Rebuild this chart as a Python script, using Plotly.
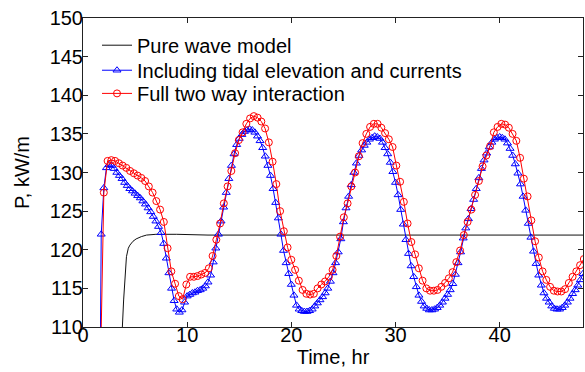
import numpy as np
import plotly.graph_objects as go

# Pure wave model (no markers)
black_t = [3.76, 3.78, 3.9, 4.0, 4.17, 4.35, 4.5, 4.8, 5.1, 5.6, 6.1, 7.0, 9.0, 12.0, 48.0]
black_p = [100.0, 110.0, 113.5, 115.6, 119.1, 120.2, 120.6, 121.1, 121.4, 121.7, 121.9, 122.0, 122.0, 121.9, 121.9]

# Including tidal elevation and currents, every 0.25 hr from 1.5 hr
blue_t0 = 1.5
blue_dt = 0.25
blue_p = [
    80.0, 122.0, 128.0, 130.6, 131.0, 130.9, 130.5, 130.0,
    129.6, 129.2, 128.7, 128.3, 127.9, 127.6, 127.3, 127.0,
    126.7, 126.3, 125.9, 125.4, 124.9, 124.3, 123.7, 123.0,
    122.2, 120.8, 118.9, 117.0, 115.0, 113.4, 112.3, 111.9,
    112.2, 113.2, 114.0, 114.2, 114.4, 114.5, 114.7, 114.8,
    115.0, 115.3, 115.8, 116.7, 118.4, 120.2, 122.0, 123.7,
    125.5, 127.4, 129.2, 130.9, 132.4, 133.6, 134.4, 134.9,
    135.3, 135.5, 135.6, 135.5, 135.2, 134.7, 134.1, 133.2,
    132.1, 130.9, 129.6, 127.9, 126.1, 124.1, 122.0, 119.9,
    118.3, 116.9, 115.5, 114.1, 112.8, 112.3, 112.1, 112.0,
    112.0, 112.1, 112.3, 112.7, 113.1, 113.5, 113.9, 114.4,
    115.0, 115.9, 117.0, 118.3, 119.7, 121.4, 123.6, 125.4,
    126.9, 128.4, 130.0, 131.2, 132.2, 132.9, 133.5, 133.9,
    134.3, 134.5, 134.7, 134.6, 134.4, 133.9, 133.2, 132.4,
    131.3, 130.1, 128.7, 127.1, 125.2, 123.3, 121.3, 119.5,
    117.9, 116.5, 115.2, 114.1, 113.3, 112.7, 112.4, 112.2,
    112.2, 112.3, 112.5, 112.8, 113.2, 113.7, 114.2, 114.8,
    115.6, 116.8, 118.3, 119.7, 121.5, 122.8, 124.0, 125.3,
    126.5, 127.9, 129.3, 130.5, 131.6, 132.5, 133.3, 133.9,
    134.3, 134.5, 134.6, 134.5, 134.3, 133.8, 133.1, 132.2,
    131.1, 129.9, 128.5, 126.9, 125.1, 123.4, 121.6, 119.8,
    118.2, 116.7, 115.4, 114.4, 113.7, 113.2, 112.7, 112.4,
    112.3, 112.3, 112.5, 112.8, 113.2, 113.7, 114.3, 114.8,
    115.4, 116.1, 116.9,
]

# Full two way interaction, every 0.36 hr from 1.64 hr
red_t0 = 1.64
red_dt = 0.36
red_p = [
    102.0, 127.4, 131.5, 131.6, 131.5, 131.2, 130.9, 130.6, 130.2, 129.9,
    129.6, 129.3, 128.9, 128.2, 127.4, 126.3, 125.2, 123.6, 120.2, 117.2,
    115.6, 114.0, 113.6, 115.5, 116.5, 116.5, 116.6, 116.8, 117.0, 117.6,
    119.2, 121.3, 123.4, 126.0, 128.2, 130.2, 132.5, 134.2, 135.2, 136.3,
    137.0, 137.3, 137.1, 136.6, 135.7, 133.9, 131.4, 128.5, 125.0, 122.4,
    120.3, 118.7, 117.4, 116.0, 114.8, 114.3, 114.2, 114.3, 115.0, 115.5,
    115.9, 116.5, 117.4, 119.2, 121.7, 124.2, 126.0, 128.2, 130.0, 132.1,
    133.8, 135.0, 135.9, 136.3, 136.3, 135.8, 135.1, 134.3, 133.3, 130.9,
    128.8, 126.2, 123.4, 121.0, 119.4, 117.6, 116.0, 115.0, 114.7, 114.7,
    114.8, 115.2, 115.7, 116.3, 117.1, 118.4, 119.9, 121.9, 123.6, 125.2,
    127.1, 128.9, 130.8, 132.2, 133.4, 135.2, 135.9, 136.3, 136.2, 135.8,
    135.0, 134.1, 131.9, 129.2, 126.9, 123.8, 121.1, 119.0, 117.2, 116.1,
    115.2, 114.7, 114.6, 114.6, 114.9, 115.7, 116.5, 117.2, 118.0, 118.8,
]

x_ticks = [0, 10, 20, 30, 40]
y_ticks = [110, 115, 120, 125, 130, 135, 140, 145, 150]

blue_t = blue_t0 + blue_dt * np.arange(len(blue_p))
red_t = red_t0 + red_dt * np.arange(len(red_p))

FONT = "Arial, Liberation Sans, sans-serif"
FS = 20

fig = go.Figure()
fig.add_trace(go.Scatter(
    x=black_t, y=black_p, mode="lines", name="Pure wave model",
    line=dict(color="#111111", width=1), legend="legend",
))
fig.add_trace(go.Scatter(
    x=blue_t, y=blue_p, mode="lines+markers",
    name="Including tidal elevation and currents",
    line=dict(color="#0000FF", width=1),
    marker=dict(symbol="triangle-up-open", size=7, color="#0000FF", line=dict(width=1)),
    legend="legend2",
))
fig.add_trace(go.Scatter(
    x=red_t, y=red_p, mode="lines+markers",
    name="Full two way interaction",
    line=dict(color="#FF0000", width=1),
    marker=dict(symbol="circle-open", size=7, color="#FF0000", line=dict(width=1)),
    legend="legend3",
))

axis_common = dict(
    showline=True, linecolor="#222222", linewidth=1, mirror="ticks",
    ticks="inside", ticklen=5, tickcolor="#222222",
    showgrid=False, zeroline=False, ticklabeloverflow="allow",
    tickfont=dict(family=FONT, size=FS, color="black"),
)


def legend_box(yc):
    return dict(
        x=0.028, y=yc, xanchor="left", yanchor="middle",
        bgcolor="rgba(0,0,0,0)", borderwidth=0,
        font=dict(family=FONT, size=FS, color="black"),
        itemwidth=30,
    )


fig.update_layout(
    width=585, height=372,
    margin=dict(l=83, r=2, t=18, b=45),
    paper_bgcolor="white", plot_bgcolor="white",
    font=dict(family=FONT, size=FS, color="black"),
    showlegend=True,
    legend=legend_box(0.912),
    legend2=legend_box(0.831),
    legend3=legend_box(0.756),
    xaxis=dict(range=[0, 48], tickvals=x_ticks, ticklabelstandoff=-10,
               title=dict(text="Time, hr", font=dict(family=FONT, size=FS), standoff=0),
               **axis_common),
    yaxis=dict(range=[110, 150], tickvals=y_ticks, ticklabelstandoff=-5,
               title=dict(text="P, kW/m", font=dict(family=FONT, size=FS), standoff=14),
               **axis_common),
)

fig.write_html(
    "out.html",
    config={"displayModeBar": False},
    post_script="document.body.style.margin='0';document.documentElement.style.overflow='hidden';document.body.style.overflow='hidden';",
)
